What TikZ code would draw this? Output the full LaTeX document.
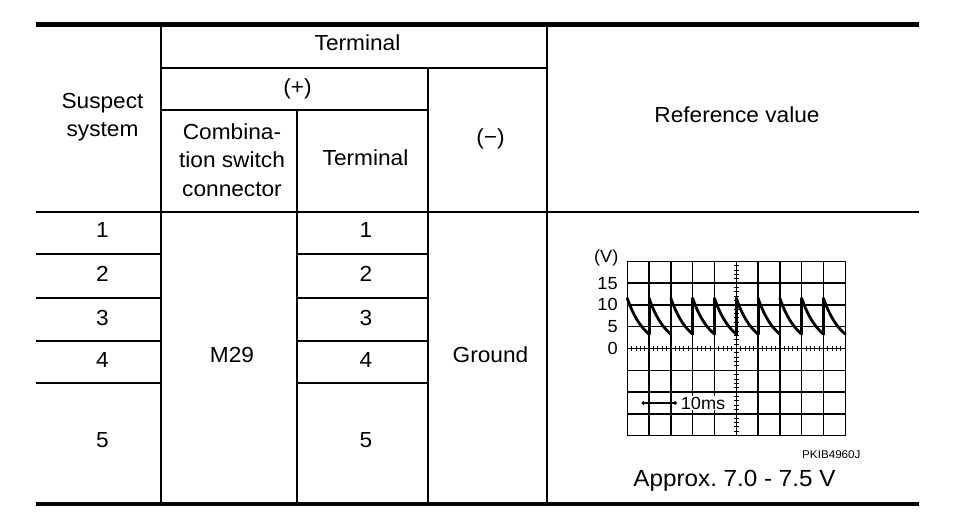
\documentclass[tikz,border=0pt]{standalone}
\usepackage{fontspec}
\setmainfont[FakeStretch=1.04]{Liberation Sans}
\usetikzlibrary{arrows.meta}
\frenchspacing
\begin{document}
\begin{tikzpicture}[x=1bp,y=-1bp,
  thickrule/.style={line width=4.5bp},
  rule/.style={line width=2bp},
  thinrule/.style={line width=1.6bp},
  cell/.style={font=\fontsize{21.8bp}{28.5bp}\selectfont, align=center, inner sep=0pt},
  gl/.style={line width=1.4bp},
  glthick/.style={line width=2.8bp},
  tickmark/.style={line width=1bp},
  wave/.style={line width=2.8bp, line join=round, line cap=round},
  ax/.style={font=\fontsize{17.5bp}{19bp}\selectfont, inner sep=0pt}]
\useasboundingbox (0,0) rectangle (960,528);
\fill[white] (0,0) rectangle (960,528);
% ---- table rules
\draw[thickrule] (36,24.5) -- (919,24.5);
\draw[thickrule] (36,504) -- (919,504);
\draw[rule] (36,212) -- (919,212);
\draw[rule] (161,24.5) -- (161,504);
\draw[rule] (547,24.5) -- (547,504);
\draw[rule] (428,68) -- (428,504);
\draw[rule] (296.5,110.5) -- (296.5,504);
\draw[rule] (161,68) -- (547,68);
\draw[rule] (161,110.5) -- (428,110.5);
\foreach \yy in {254,298,341,383} {
  \draw[thinrule] (36,\yy) -- (161,\yy);
  \draw[thinrule] (296.5,\yy) -- (428,\yy);
}
% ---- header texts
\node[cell, anchor=base] (hterm) at (357.5,50.7) {Terminal};
\node[cell] (hplus) at (297.5,89) {(+)};
\node[cell] (hsusp) at (102.5,117) {Suspect\\system};
\node[cell] (hcomb) at (232,160) {Combina-\\tion switch\\connector};
\node[cell] (hterm2) at (365.5,158) {Terminal};
\node[cell] (hminus) at (490.5,139) {(−)};
\node[cell, anchor=base] (href) at (737,122.7) {Reference value};
% ---- body texts
\node[cell] (s1) at (102.5,230.5) {1};
\node[cell] (s2) at (102.5,274) {2};
\node[cell] (s3) at (102.5,317.5) {3};
\node[cell] (s4) at (102.5,360.5) {4};
\node[cell] (s5) at (102.5,440.5) {5};
\node[cell] (t1) at (366,230.5) {1};
\node[cell] (t2) at (366,274) {2};
\node[cell] (t3) at (366,317.5) {3};
\node[cell] (t4) at (366,360.5) {4};
\node[cell] (t5) at (366,440.5) {5};
\node[cell] (conn) at (232,355) {M29};
\node[cell] (gnd) at (490.5,355) {Ground};
% ---- oscilloscope
\begin{scope}[shift={(627.3,261.3)}, x=21.8bp, y=-21.8bp]
  \foreach \i in {0,...,10} \draw[gl] (\i,0) -- (\i,8);
  \foreach \j in {0,...,8} \draw[gl] (0,\j) -- (10,\j);
  \draw[glthick] (0,2) -- (10,2);
  \draw[glthick] (7,0) -- (7,8);
  \foreach \n in {0,...,50} \draw[tickmark] ({\n/5},3.88) -- ({\n/5},4.12);
  \foreach \n in {0,...,40} \draw[tickmark] (4.88,{\n/5}) -- (5.12,{\n/5});
  \foreach \k in {0,...,9}
    \draw[wave] plot[domain=0:1, samples=30, variable=\t] ({\k+\t},{4-2.3*exp(-1.248*\t)});
  \foreach \k in {1,...,9}
    \draw[wave] (\k,3.34) -- (\k,1.7);
  \node[ax, anchor=east] (vunit) at (-0.40,-0.13) {(V)};
  \node[ax, anchor=east] (v15) at (-0.43,1) {15};
  \node[ax, anchor=east] (v10) at (-0.43,2) {10};
  \node[ax, anchor=east] (v5) at (-0.43,3) {5};
  \node[ax, anchor=east] (v0) at (-0.43,4) {0};
  \coordinate (ms1) at (0.66,6.5);
  \coordinate (ms2) at (2.27,6.5);
  \draw[line width=1.2bp, {Circle[length=3.5bp]}-{Circle[length=3.5bp]}] (ms1) -- (ms2);
  \node[ax, anchor=west, fill=white, inner sep=1bp] (ms) at (2.40,6.5) {10ms};
\end{scope}
\node[font=\fontsize{11.2bp}{12bp}\selectfont, anchor=base east, inner sep=0pt] (pkib) at (860.7,458) {PKIB4960J};
\node[font=\fontsize{23.3bp}{26bp}\selectfont, anchor=base, inner sep=0pt] (approx) at (734.5,486.7) {Approx. 7.0 - 7.5 V};
\end{tikzpicture}
\end{document}
